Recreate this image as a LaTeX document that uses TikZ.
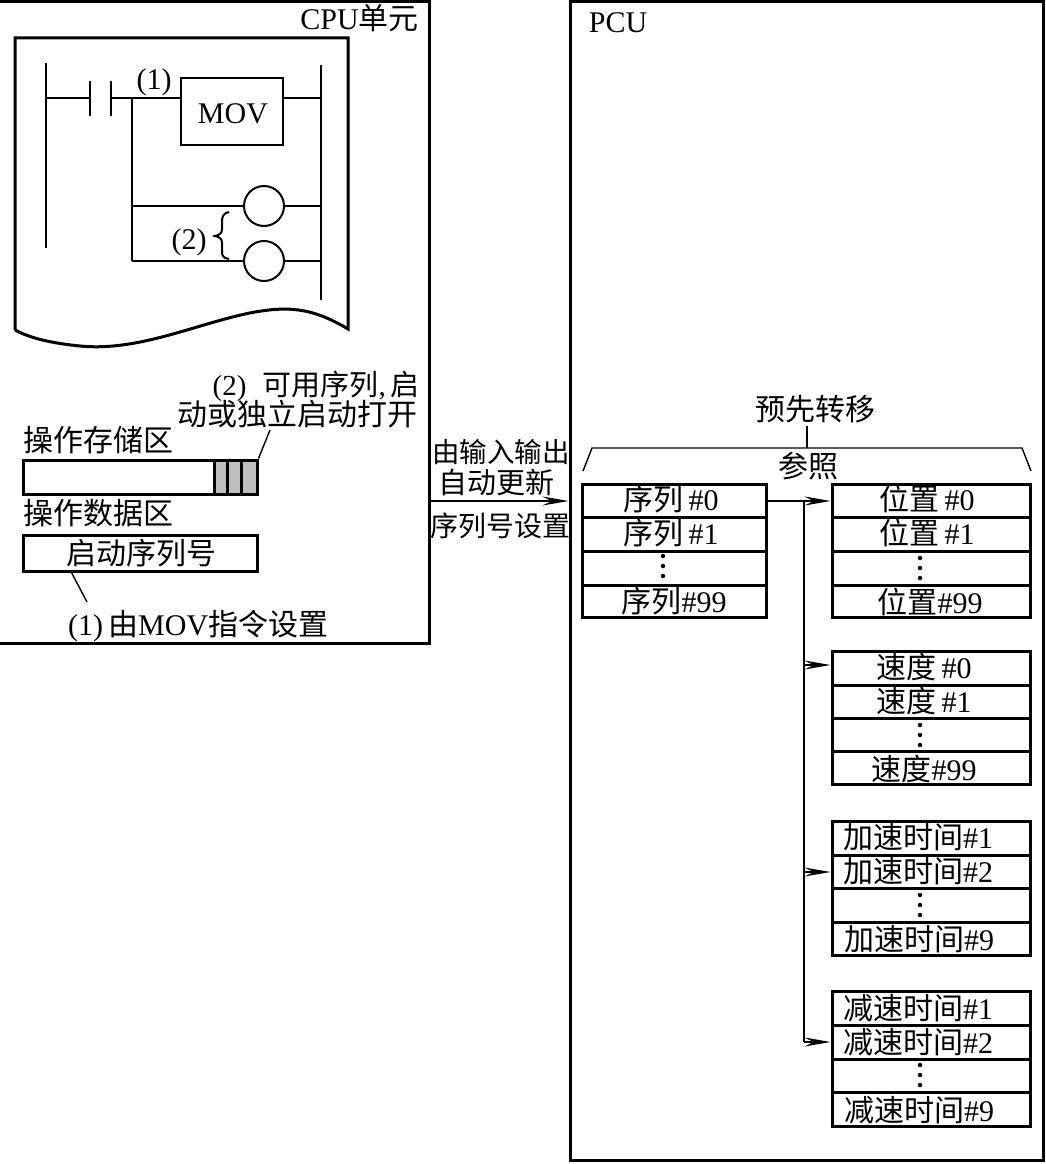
\documentclass[tikz,border=0pt]{standalone}
\usepackage{fontspec}
\setmainfont{Liberation Serif}
\newfontfamily\cjk{Noto Sans CJK SC}
\newcommand\Zh[1]{{\cjk #1}}
\usetikzlibrary{arrows.meta}
\tikzset{
  heavy/.style={draw=black,line width=3pt},
  medium/.style={draw=black,line width=2pt},
  thin line/.style={draw=black,line width=1.4pt},
  lbl/.style={inner sep=0pt,text height=25pt,text depth=2pt,font=\fontsize{30}{32}\selectfont},
  rowbox/.style={heavy,inner sep=0pt,minimum height=#1},
  lrow/.style={rowbox=#1,minimum width=184pt},
  rrow/.style={rowbox=#1,minimum width=198pt},
  coil/.style={circle,medium,minimum size=40pt,inner sep=0pt},
  cell/.style={heavy,fill=black!25,minimum height=34pt,inner sep=0pt},
  arrowline/.style={thin line,-{Stealth[length=26pt,width=9pt,inset=9pt]}},
  dotmark/.style={circle,fill=black,minimum size=4.5pt,inner sep=0pt},
}
% row: name, centre x, centre y, height, style
\newcommand\tabrow[5]{\node[#5={#4}] (#1) at (#2,{#3}) {};}
\newcommand\threedots[3]{%
  \node[dotmark] (#1a) at (#2,#3) {};
  \node[dotmark] (#1b) at (#2,#3+10) {};
  \node[dotmark] (#1c) at (#2,#3+20) {};}
\newcommand\rtable[5]{% prefix, y1..y4 (last edge in \rlast)
  \tabrow{#1a}{931}{(#2+#3)/2}{#3-#2}{rrow}
  \tabrow{#1b}{931}{(#3+#4)/2}{#4-#3}{rrow}
  \tabrow{#1c}{931}{(#4+#5)/2}{#5-#4}{rrow}
  \tabrow{#1d}{931}{(#5+\rlast)/2}{\rlast-#5}{rrow}
}
\begin{document}
\begin{tikzpicture}[x=1pt,y=-1pt]
\useasboundingbox (0,0) rectangle (1045,1164);
% CPU unit
\coordinate (cputl) at (0,2);
\coordinate (cputr) at (429,2);
\coordinate (cpubr) at (429,643);
\coordinate (cpubl) at (0,643);
\draw[heavy,line join=miter] (cputl) -- (cputr) -- (cpubr) -- (cpubl);
\node[lbl,anchor=east] (cputitle) at (419,18) {CPU\Zh{单元}};
% paper
\draw[heavy,line join=miter] (15,330) -- (15,38) -- (348,38) -- (348,329)
  .. controls (310,306) and (285,307) .. (255,312)
  .. controls (200,322) and (140,352) .. (80,346)
  .. controls (50,343) and (30,338) .. (15,330);
% ladder
\coordinate (lrailt) at (46,63);
\coordinate (lrailb) at (46,248);
\coordinate (rrailt) at (321,65);
\coordinate (rrailb) at (321,300);
\draw[medium] (lrailt) -- (lrailb);
\draw[medium] (rrailt) -- (rrailb);
\coordinate (rungl) at (46,98);
\coordinate (contacta) at (90,98);
\coordinate (contactb) at (111,98);
\coordinate (branchtop) at (132,98);
\coordinate (branchmid) at (132,206);
\coordinate (branchbot) at (132,261);
\draw[medium] (90,81) -- (90,116);
\draw[medium] (111,81) -- (111,116);
\node[medium,minimum width=102pt,minimum height=67pt,inner sep=0pt] (mov) at (232,111.5) {};
\node[lbl] (movtext) at (233,112) {MOV};
\node[coil] (coila) at (264,206) {};
\node[coil] (coilb) at (264,261) {};
\draw[medium] (rungl) -- (contacta);
\draw[medium] (contactb) -- (branchtop);
\draw[medium] (branchtop) -- (mov.west |- branchtop);
\draw[medium] (mov.east |- rungl) -- (rrailt |- rungl);
\draw[thin line] (branchtop) -- (branchbot);
\draw[thin line] (branchmid) -- (coila);
\draw[thin line] (branchbot) -- (coilb);
\draw[thin line] (coila) -- (rrailt |- coila);
\draw[thin line] (coilb) -- (rrailt |- coilb);
\node[lbl] (one) at (154,78) {(1)};
\node[lbl] (two) at (189,238) {(2)};
\draw[medium] (229,212) .. controls (223,213) and (222,217) .. (222,222) -- (222,229)
  .. controls (222,233) and (220,235) .. (215,236)
  .. controls (220,237) and (222,239) .. (222,243) -- (222,251)
  .. controls (222,256) and (223,258) .. (229,259);
% notes
\node[lbl,font=\fontsize{29}{30}\selectfont,anchor=east] (note2a) at (420,384) {(2)\hspace{16pt}\Zh{可用序列},\hspace{5pt}\Zh{启}};
\node[lbl,anchor=east] (note2b) at (418,414) {\Zh{动或独立启动打开}};
\node[lbl,anchor=west] (areaa) at (23,440) {\Zh{操作存储区}};
\node[heavy,minimum width=234pt,minimum height=34pt,inner sep=0pt] (store) at (140,477) {};
\node[cell,minimum width=13pt] (cella) at (220.5,477) {};
\node[cell,minimum width=14pt] (cellb) at (234,477) {};
\node[cell,minimum width=16pt] (cellc) at (249,477) {};
\node[lbl,anchor=west] (areab) at (23,513) {\Zh{操作数据区}};
\node[heavy,minimum width=234pt,minimum height=36pt,inner sep=0pt] (datab) at (140,553) {};
\node[lbl] (datat) at (141,553) {\Zh{启动序列号}};
\node[lbl,anchor=west] (note1) at (68,624) {(1)\,\Zh{由}MOV\Zh{指令设置}};
\coordinate (lead2) at (270,430);
\coordinate (lead1) at (87,602);
\draw[thin line] (store.north east) -- (lead2);
\draw[thin line] (datab.south west) ++(50,0) coordinate (lead1s) -- (lead1);
% link
\node[lbl,font=\fontsize{27.5}{30}\selectfont] (linka) at (501,451) {\Zh{由输入输出}};
\node[lbl,font=\fontsize{29}{30}\selectfont] (linkb) at (496,482) {\Zh{自动更新}};
\node[lbl,font=\fontsize{28}{30}\selectfont] (linkc) at (500,525) {\Zh{序列号设置}};
% PCU
\node[heavy,minimum width=473pt,minimum height=1159pt,inner sep=0pt] (pcu) at (806.5,581) {};
\coordinate (linky) at (0,501);
\draw[arrowline] (cpubr |- linky) -- (pcu.west |- linky);
\node[lbl] (pcutitle) at (618,21) {PCU};
\node[lbl] (pre) at (815,409) {\Zh{预先转移}};
\node[lbl] (ref) at (808,466) {\Zh{参照}};
\coordinate (brl) at (583,471);
\coordinate (brtl) at (592,448);
\coordinate (brtm) at (807,448);
\coordinate (brtr) at (1022,448);
\coordinate (brr) at (1031,471);
\draw[thin line] (brl) -- (brtl) -- (brtr) -- (brr);
\draw[thin line] (807,426) -- (brtm);
% left table
\tabrow{sa}{674}{500.5}{33}{lrow}
\tabrow{sb}{674}{534}{34}{lrow}
\tabrow{sc}{674}{568}{34}{lrow}
\tabrow{sd}{674}{601}{32}{lrow}
\node[lbl] (sat) at (671,499) {\Zh{序列}\,\#0};
\node[lbl] (sbt) at (671,533) {\Zh{序列}\,\#1};
\threedots{sdots}{663}{556}
\node[lbl] (sdt) at (674,601) {\Zh{序列}\#99};
% right tables
\def\rlast{617}
\rtable{p}{484}{517}{551}{585}
\node[lbl] (pat) at (927,499) {\Zh{位置}\,\#0};
\node[lbl] (pbt) at (927,533) {\Zh{位置}\,\#1};
\threedots{pdots}{920}{558}
\node[lbl] (pdt) at (930,602) {\Zh{位置}\#99};
\def\rlast{784}
\rtable{v}{651}{685}{718}{751}
\node[lbl] (vat) at (924,667) {\Zh{速度}\,\#0};
\node[lbl] (vbt) at (924,701) {\Zh{速度}\,\#1};
\threedots{vdots}{920}{725}
\node[lbl] (vdt) at (924,769) {\Zh{速度}\#99};
\def\rlast{955}
\rtable{a}{821}{855}{888}{922}
\node[lbl] (aat) at (918,837) {\Zh{加速时间}\#1};
\node[lbl] (abt) at (918,871) {\Zh{加速时间}\#2};
\threedots{adots}{920}{895}
\node[lbl] (adt) at (919,939) {\Zh{加速时间}\#9};
\def\rlast{1126}
\rtable{d}{991}{1025}{1059}{1092}
\node[lbl] (dat) at (918,1008) {\Zh{减速时间}\#1};
\node[lbl] (dbt) at (918,1042) {\Zh{减速时间}\#2};
\threedots{ddots}{920}{1065}
\node[lbl] (ddt) at (919,1110) {\Zh{减速时间}\#9};
% connectors
\coordinate (trunktop) at (804,501);
\coordinate (trunkb) at (804,665);
\coordinate (trunkc) at (804,872);
\coordinate (trunkd) at (804,1042);
\draw[arrowline] (sa.east |- trunktop) -- (pa.west |- trunktop);
\draw[thin line] (trunktop) -- (trunkd);
\draw[arrowline] (trunkb) -- (va.west |- trunkb);
\draw[arrowline] (trunkc) -- (ab.west |- trunkc);
\draw[arrowline] (trunkd) -- (db.west |- trunkd);
\end{tikzpicture}
\end{document}
